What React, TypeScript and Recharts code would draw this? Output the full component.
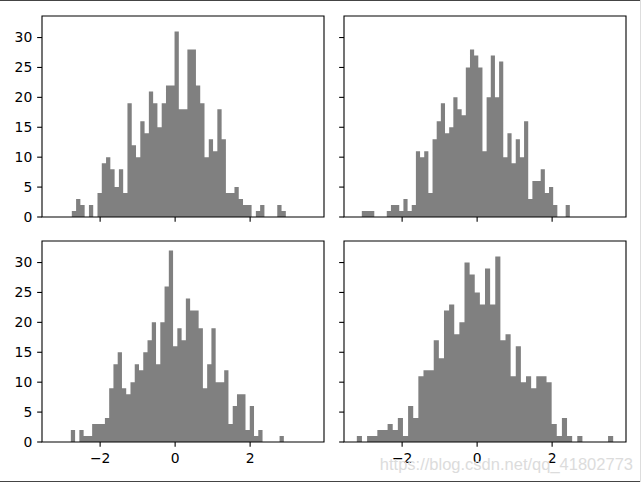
import React from 'react';
import { ComposedChart, Area, XAxis, YAxis, ReferenceArea } from 'recharts';

// Histogram counts (50 bins each)
const COUNTS_TOP_LEFT = [1, 3, 2, 0, 2, 0, 4, 9, 10, 8, 5, 8, 4, 19, 12, 10, 16, 14, 21, 19, 15, 19, 22, 22, 31, 18, 18, 28, 28, 22, 19, 10, 13, 11, 18, 13, 4, 4, 5, 3, 2, 2, 0, 1, 2, 0, 0, 0, 2, 1];
const COUNTS_TOP_RIGHT = [1, 1, 1, 0, 0, 0, 1, 2, 2, 1, 3, 1, 2, 11, 10, 11, 4, 13, 16, 19, 14, 15, 20, 18, 17, 25, 28, 27, 25, 11, 20, 27, 20, 26, 10, 14, 9, 13, 10, 16, 3, 6, 6, 8, 4, 5, 2, 0, 0, 2];
const COUNTS_BOTTOM_LEFT = [2, 0, 2, 1, 1, 3, 3, 3, 4, 9, 13, 15, 9, 8, 10, 13, 12, 15, 17, 20, 13, 20, 26, 32, 16, 19, 17, 24, 22, 22, 19, 9, 13, 19, 10, 10, 12, 3, 6, 8, 8, 2, 6, 1, 2, 0, 0, 0, 0, 1];
const COUNTS_BOTTOM_RIGHT = [1, 0, 1, 1, 2, 2, 3, 2, 4, 1, 6, 4, 11, 12, 12, 17, 14, 22, 23, 18, 20, 30, 28, 25, 23, 29, 23, 31, 17, 18, 11, 16, 10, 11, 9, 11, 11, 10, 3, 1, 4, 1, 0, 1, 0, 0, 0, 0, 0, 1];

// Data range (min, max) of each sample -> histogram bin span
const RANGE_TOP_LEFT = [-2.755, 2.952];
const RANGE_TOP_RIGHT = [-3.075, 2.472];
const RANGE_BOTTOM_LEFT = [-2.781, 2.899];
const RANGE_BOTTOM_RIGHT = [-3.208, 3.628];

const X_TICKS = [-2, 0, 2];
const Y_TICKS = [0, 5, 10, 15, 20, 25, 30];
const X_DOMAIN: [number, number] = [-3.55, 3.97];
const Y_DOMAIN: [number, number] = [0, 33.6];

const WATERMARK = 'https://blog.csdn.net/qq_41802773';

function toSteps(counts: number[], range: number[]) {
  const [lo, hi] = range;
  const w = (hi - lo) / counts.length;
  const pts = counts.map((c, i) => ({ x: lo + i * w, y: c }));
  pts.push({ x: hi, y: 0 });
  return pts;
}

const fmt = (v: number) => (v < 0 ? '\u2212' + Math.abs(v) : String(v));
const blank = () => '';

const TICK_LEN = 4.86;
const LINE_W = 1.1;
const tickStyle = { fill: '#000', fontSize: 13.9, fontFamily: 'DejaVu Sans' };
const tickLineStyle = { stroke: '#000', strokeWidth: LINE_W };

function Panel(props: {
  counts: number[];
  range: number[];
  showX: boolean;
  showY: boolean;
  left: number;
  top: number;
}) {
  const { counts, range, showX, showY, left, top } = props;
  const data = toSteps(counts, range);
  return (
    <div style={{ position: 'absolute', left, top }}>
      <ComposedChart
        width={325}
        height={233}
        data={data}
        margin={{ top: 2, right: 1, bottom: 0, left: 0 }}
      >
        <XAxis
          dataKey="x"
          type="number"
          domain={X_DOMAIN}
          ticks={X_TICKS}
          interval={0}
          tickFormatter={showX ? fmt : blank}
          tick={tickStyle}
          tickLine={tickLineStyle}
          tickSize={TICK_LEN}
          tickMargin={6}
          axisLine={false}
          height={30}
        />
        <YAxis
          type="number"
          domain={Y_DOMAIN}
          ticks={Y_TICKS}
          interval={0}
          tickFormatter={showY ? undefined : blank}
          tick={tickStyle}
          tickLine={tickLineStyle}
          tickSize={TICK_LEN}
          tickMargin={4.86}
          axisLine={false}
          width={42}
        />
        <Area
          type="stepAfter"
          dataKey="y"
          fill="#808080"
          fillOpacity={1}
          stroke="none"
          isAnimationActive={false}
        />
        <ReferenceArea
          x1={X_DOMAIN[0]}
          x2={X_DOMAIN[1]}
          y1={Y_DOMAIN[0]}
          y2={Y_DOMAIN[1]}
          fill="none"
          fillOpacity={0}
          stroke="#000"
          strokeWidth={LINE_W}
        />
      </ComposedChart>
    </div>
  );
}

export default function App() {
  return (
    <div
      style={{
        position: 'absolute',
        left: 0,
        top: 0,
        width: 641,
        height: 482,
        background: '#fff',
        overflow: 'hidden',
      }}
    >
      <Panel counts={COUNTS_TOP_LEFT} range={RANGE_TOP_LEFT} showX={false} showY={true} left={0} top={14} />
      <Panel counts={COUNTS_TOP_RIGHT} range={RANGE_TOP_RIGHT} showX={false} showY={false} left={302} top={14} />
      <Panel counts={COUNTS_BOTTOM_LEFT} range={RANGE_BOTTOM_LEFT} showX={true} showY={true} left={0} top={239.3} />
      <Panel counts={COUNTS_BOTTOM_RIGHT} range={RANGE_BOTTOM_RIGHT} showX={true} showY={false} left={302} top={239.3} />
      <div
        style={{
          position: 'absolute',
          right: 8,
          top: 456,
          fontFamily: 'Liberation Sans, Arial, sans-serif',
          fontSize: 16.5,
          lineHeight: 1,
          color: '#dcdcdc',
          whiteSpace: 'nowrap',
        }}
      >
        {WATERMARK}
      </div>
      <div style={{ position: 'absolute', left: 0, top: 0, width: 641, height: 1, background: '#444' }} />
      <div style={{ position: 'absolute', left: 0, top: 481, width: 641, height: 1, background: '#444' }} />
      <div style={{ position: 'absolute', left: 640, top: 0, width: 1, height: 482, background: '#ddd' }} />
    </div>
  );
}
